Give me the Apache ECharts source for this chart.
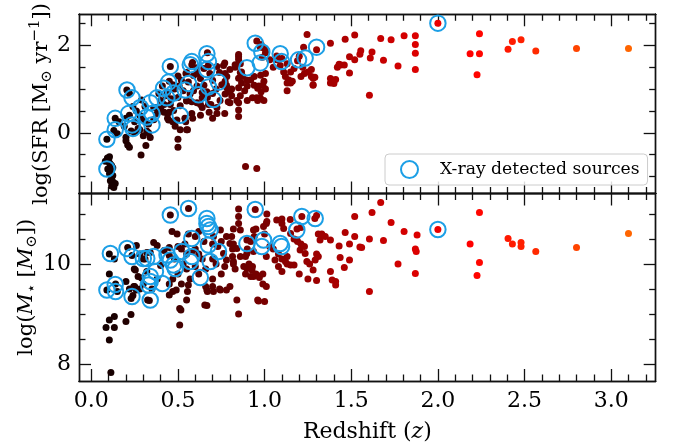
<!DOCTYPE html>
<html><head><meta charset="utf-8">
<script src="https://cdn.jsdelivr.net/npm/echarts@6/dist/echarts.min.js"></script>
<style>html,body{margin:0;padding:0;background:#fff;}#c{width:673px;height:445px;}</style>
</head><body><div id="c"></div>
<script>
// ---- data (redshift z, value) ----
const sfrDots = [
[0.081,-0.65],[0.093,-0.58],[0.105,-0.55],[0.10,-0.62],[0.11,-0.72],[0.105,-0.69],[0.117,-0.75],[0.124,-0.8],[0.095,-0.83],[0.11,-0.9],[0.105,-0.94],[0.117,-1.05],[0.124,-0.98],[0.11,-1.1],[0.138,-1.16],[0.124,-1.12],[0.117,-1.22],[0.13,-1.25],[0.09,-0.15],[0.13,0.05],[0.138,0.33],[0.15,-0.02],[0.16,0.25],
[0.2,-0.1],[0.21,-0.28],[0.22,-0.33],[0.2,-0.18],[0.287,-0.51],[0.315,-0.29],[0.2,0.33],[0.22,0.4],[0.23,0.04],[0.25,0.0],[0.28,0.07],[0.30,-0.07],[0.32,0.04],[0.34,-0.11],[0.33,0.0],[0.19,0.15],[0.25,0.25],[0.26,0.5],[0.28,0.4],[0.3,0.3],[0.27,0.1],[0.31,0.6],[0.29,0.75],[0.24,0.6],[0.205,0.98],[0.22,0.9],[0.33,0.2],[0.36,0.3],
[0.40,0.54],[0.38,0.44],[0.36,0.58],[0.42,0.65],[0.44,0.44],[0.456,0.65],[0.446,0.29],[0.484,0.15],[0.513,0.07],[0.55,0.07],[0.5,-0.15],[0.5,-0.33],[0.494,0.29],[0.54,0.33],[0.475,0.51],[0.513,0.62],[0.55,0.73],[0.44,0.33],[0.47,0.25],[0.45,0.47],[0.42,0.47],[0.40,0.56],[0.37,0.58],[0.41,1.07],[0.44,0.92],[0.40,0.74],[0.46,0.78],[0.5,0.81],[0.45,1.18],[0.456,1.52],[0.52,1.2],[0.507,1.07],[0.53,0.96],[0.546,1.36],[0.555,0.07],[0.545,0.25],[0.39,0.9],[0.43,0.85],[0.48,1.0],[0.5,1.3],[0.47,1.1],
[0.58,0.44],[0.61,0.69],[0.64,0.80],[0.667,0.94],[0.65,1.09],[0.63,1.24],[0.59,1.31],[0.61,1.49],[0.58,1.56],[0.55,1.38],[0.56,1.16],[0.63,0.65],[0.676,0.65],[0.725,0.58],[0.725,0.44],[0.61,1.36],[0.65,1.47],[0.675,1.54],[0.684,1.36],[0.57,0.89],[0.59,0.96],[0.61,1.07],[0.64,0.92],[0.67,0.81],[0.55,0.74],[0.58,0.71],[0.63,0.40],[0.585,0.33],[0.64,0.58],[0.69,0.65],[0.68,0.47],[0.70,0.33],[0.584,1.61],[0.67,1.83],[0.7,1.2],[0.72,1.0],[0.74,1.38],[0.725,1.52],[0.7,0.9],
[0.77,0.44],[0.8,0.94],[0.78,1.09],[0.77,1.6],[0.8,1.45],[0.83,1.56],[0.85,1.74],[0.86,1.38],[0.763,1.54],[0.772,1.36],[0.782,1.29],[0.772,1.18],[0.753,1.1],[0.782,1.03],[0.81,1.0],[0.772,0.89],[0.81,0.85],[0.743,0.74],[0.79,0.71],[0.84,0.74],[0.8,0.69],[0.85,0.69],[0.85,0.52],[0.85,0.37],[0.83,1.5],[0.85,1.79],[0.85,1.68],[0.86,1.58],[0.867,1.39],[0.875,1.29],[0.85,1.25],[0.867,1.14],[0.85,1.03],[0.885,0.96],[0.86,0.85],[0.9,1.07],[0.92,1.21],[0.94,1.29],[0.977,1.32],[1.005,1.36],[0.996,1.18],[0.967,1.07],[1.005,1.0],[0.96,0.74],[0.996,0.74],[0.9,0.74],[0.93,0.8],[0.955,0.8],[0.975,0.8],[0.99,1.09],[0.98,0.94],[0.96,1.02],[0.94,1.09],[0.9,1.2],[0.89,-0.77],[0.955,-0.82],[0.996,1.94],[1.005,1.83],[0.987,1.73],[0.975,1.96],[0.955,2.1],[0.98,2.02],
[1.03,1.67],[1.01,1.89],[1.07,1.76],[1.09,1.54],[1.13,1.58],[1.15,1.39],[1.17,1.47],[1.12,1.29],[1.14,1.21],[1.16,1.18],[1.15,1.14],[1.13,1.14],[1.22,1.5],[1.23,1.36],[1.25,1.39],[1.27,1.29],[1.28,1.25],[1.28,1.1],[1.07,1.67],[1.11,1.39],[1.13,0.96],[1.21,1.29],[1.225,1.96],[1.245,2.25],[1.27,1.45],[1.29,1.27],[1.28,1.09],[1.38,2.05],[1.38,1.24],[1.39,1.21],[1.40,1.13],[1.38,1.14],[1.41,1.22],[1.42,1.5],[1.3,1.9],[1.2,1.75],[1.1,1.7],[1.05,1.5],[1.19,1.65],
[1.465,2.14],[1.52,2.24],[1.49,1.74],[1.52,1.67],[1.55,1.8],[1.555,1.88],[1.44,1.55],[1.46,1.55],[1.43,1.57],[1.49,1.37],[1.61,1.71],[1.62,1.85],[1.605,0.86],[1.67,2.16],[1.686,1.66],[1.73,2.13],[1.77,1.53],[1.805,2.22],[1.87,2.22],[1.87,2.02],[1.87,1.82],[1.87,1.45],
[2.0,2.51],[2.186,1.81],[2.24,2.27],[2.24,1.81],[2.226,1.33],[2.405,1.91],[2.43,2.09],[2.48,2.13],[2.565,1.87],[2.80,1.93],[3.10,1.93]
];
const sfrXray = [
[0.09,-0.15],[0.138,0.07],[0.09,-0.83],[0.138,0.33],[0.206,0.98],[0.235,0.80],[0.215,0.44],[0.235,0.18],[0.24,0.10],[0.283,0.58],[0.34,0.69],[0.35,0.44],[0.35,0.18],[0.32,0.36],[0.379,0.80],[0.417,1.02],[0.446,1.16],[0.456,1.52],[0.436,0.80],[0.475,0.91],[0.513,0.40],[0.542,0.98],[0.561,1.13],[0.58,1.63],[0.571,1.56],[0.619,0.87],[0.667,1.81],[0.676,1.63],[0.667,1.45],[0.676,1.05],[0.705,0.76],[0.734,1.16],[0.898,1.49],[0.946,2.05],[0.984,1.85],[0.975,1.6],[1.09,1.81],[1.098,1.63],[1.196,1.67],[1.234,1.71],[1.30,1.96],[2.0,2.51]
];
const massDots = [
[0.113,7.83],[0.104,8.48],[0.085,8.73],[0.133,8.73],[0.104,8.88],[0.133,8.95],[0.2,8.85],[0.229,8.99],[0.23,9.31],[0.325,9.28],[0.335,9.27],[0.09,9.48],[0.14,9.6],[0.15,9.45],[0.24,9.37],[0.104,10.2],[0.133,10.1],[0.104,9.8],[0.248,9.9],[0.21,10.33],[0.235,10.17],[0.28,10.2],[0.31,10.1],[0.36,10.43],[0.38,10.37],[0.26,10.37],[0.32,10.23],[0.34,10.23],[0.3,10.1],[0.4,9.97],[0.42,10.27],[0.45,10.17],[0.45,10.33],[0.3,9.6],[0.28,9.5],[0.35,9.5],[0.38,9.7],[0.32,9.85],[0.27,9.75],[0.25,9.55],[0.2,9.65],[0.22,9.5],[0.254,9.88],[0.29,9.72],[0.245,9.55],[0.26,9.48],
[0.51,9.11],[0.51,8.78],[0.655,9.18],[0.667,9.48],[0.705,9.45],[0.745,9.48],[0.466,10.65],[0.495,10.6],[0.5,10.35],[0.52,10.3],[0.54,10.4],[0.55,10.2],[0.6,10.3],[0.62,10.2],[0.64,10.1],[0.6,9.95],[0.55,9.9],[0.5,9.8],[0.47,9.7],[0.45,9.6],[0.52,9.6],[0.57,9.7],[0.62,9.8],[0.66,9.9],[0.7,10.1],[0.72,10.0],[0.7,9.7],[0.75,9.8],[0.77,9.95],[0.73,10.35],[0.75,10.45],[0.7,10.4],[0.65,10.45],[0.6,10.55],[0.62,10.65],[0.56,10.6],[0.45,9.38],[0.47,9.45],[0.49,9.48],[0.517,9.08],[0.55,9.28],[0.555,9.45],[0.56,9.58],[0.67,9.45],[0.66,9.55],[0.7,9.55],[0.74,9.5],[0.78,9.48],[0.667,9.17],[0.456,10.98],[0.561,11.11],[0.53,10.0],[0.48,10.1],[0.58,10.25],
[0.8,9.55],[0.84,9.28],[0.85,9.0],[0.96,9.28],[1.0,9.25],[1.01,9.55],[0.936,9.75],[0.955,9.78],[0.898,9.91],[0.927,9.88],[0.85,11.1],[0.85,10.95],[0.85,10.81],[0.86,10.68],[0.898,10.48],[0.936,10.68],[0.994,10.75],[1.01,10.81],[0.84,10.31],[0.8,10.41],[0.78,10.55],[0.745,10.68],[0.705,10.55],[0.763,10.21],[0.78,10.08],[0.82,10.05],[0.86,10.15],[0.898,10.21],[0.936,10.25],[0.82,10.7],[0.81,10.55],[0.82,10.4],[0.815,10.3],[0.815,10.15],[0.82,10.0],[0.83,9.9],[0.95,10.7],[0.94,10.55],[0.92,10.45],[0.9,10.3],[0.89,10.15],[0.91,10.0],[0.93,9.95],[0.88,9.95],[0.89,9.8],[0.92,9.75],[0.95,9.8],[0.97,9.73],[0.99,9.8],[0.99,9.6],[0.946,11.09],
[1.07,10.88],[1.1,10.81],[1.11,10.71],[1.15,10.61],[1.186,10.48],[1.205,10.28],[1.234,10.21],[1.244,10.05],[1.292,10.08],[1.28,9.88],[1.32,10.48],[1.38,10.48],[1.38,9.85],[1.39,9.68],[1.41,9.65],[1.13,10.15],[1.15,9.98],[1.17,9.98],[1.06,10.08],[1.01,10.15],[1.013,11.0],[1.013,10.85],[1.1,10.9],[1.148,10.89],[1.215,10.95],[1.30,10.97],[1.187,10.7],[1.21,10.73],[1.0,10.6],[1.03,10.35],[1.05,10.3],[1.08,10.2],[1.1,10.1],[1.12,10.05],[1.13,10.0],[1.1,9.85],[1.17,10.5],[1.19,10.45],[1.21,10.4],[1.23,10.35],[1.31,10.6],[1.33,10.6],[1.35,10.55],[1.3,10.2],[1.31,10.15],[1.3,9.67],[1.25,9.7],[1.26,10.0],[1.2,9.8],[1.08,9.95],[1.29,10.91],[0.965,9.26],[1.41,9.58],
[1.67,11.23],[1.62,11.03],[1.52,10.95],[1.73,10.83],[1.805,10.65],[1.88,10.58],[1.465,10.63],[1.52,10.55],[1.43,10.36],[1.49,10.4],[1.55,10.34],[1.56,10.33],[1.605,10.5],[1.686,10.47],[1.87,10.3],[1.875,10.25],[1.436,10.13],[1.49,10.08],[1.46,9.93],[1.77,10.0],[1.87,9.81],[1.605,9.45],
[2.0,10.69],[2.24,11.03],[2.186,10.4],[2.24,10.03],[2.226,9.77],[2.405,10.51],[2.43,10.4],[2.48,10.43],[2.48,10.35],[2.565,10.25],[2.8,10.33],[3.1,10.61]
];
const massXray = [
[0.09,9.48],[0.138,9.59],[0.14,9.45],[0.235,9.35],[0.11,10.21],[0.206,10.31],[0.235,10.15],[0.30,10.11],[0.32,10.11],[0.36,10.15],[0.34,9.75],[0.34,9.65],[0.33,9.58],[0.34,9.28],[0.41,9.61],[0.37,9.85],[0.437,10.18],[0.456,10.08],[0.475,9.98],[0.484,9.91],[0.456,10.98],[0.561,11.11],[0.523,10.25],[0.58,10.15],[0.571,10.05],[0.58,10.51],[0.629,9.73],[0.667,10.91],[0.667,10.81],[0.676,10.75],[0.686,10.68],[0.676,10.38],[0.686,10.05],[0.734,10.25],[0.898,10.41],[0.946,11.09],[0.994,10.48],[0.984,10.35],[1.09,10.41],[1.098,10.35],[1.186,10.68],[1.215,10.95],[1.292,10.91],[2.0,10.69]
];
// ---- tick values ----
const xMajorTicks = [0, 0.5, 1, 1.5, 2, 2.5, 3];
const xMinorTicks = [0.1,0.2,0.3,0.4,0.6,0.7,0.8,0.9,1.1,1.2,1.3,1.4,1.6,1.7,1.8,1.9,2.1,2.2,2.3,2.4,2.6,2.7,2.8,2.9,3.1,3.2];
const sfrMajorTicks = [0, 2];
const sfrMinorTicks = [-1, -0.5, 0.5, 1, 1.5, 2.5];
const massMajorTicks = [8, 10];
const massMinorTicks = [8.5, 9, 9.5, 10.5, 11];
const legendLabel = 'X-ray detected sources';

const X_MIN=-0.071, X_MAX=3.257, SFR_MIN=-1.39, SFR_MAX=2.713, M_MIN=7.66, M_MAX=11.41;
const FONT='DejaVu Serif', BLUE='#1c9fe6', COLOR_MAX=6.0;
const MAJ=12, MIN=6.5, TICKFS=22, NAMEFS=21;

function hot(t){
  t=Math.max(0,Math.min(1,t));
  const a=0.365079,b=0.746032;
  const r=t<a?0.0416+(1-0.0416)*t/a:1;
  const g=t<a?0:(t<b?(t-a)/(b-a):1);
  const bl=t<b?0:(t-b)/(1-b);
  return 'rgb('+Math.round(r*255)+','+Math.round(g*255)+','+Math.round(bl*255)+')';
}
const lineStyle={color:'#111',width:1.4};
const nameRich={
  sub:{fontFamily:FONT,fontSize:15,lineHeight:12,verticalAlign:'bottom',color:'#000'},
  sup:{fontFamily:FONT,fontSize:15,lineHeight:12,verticalAlign:'top',color:'#000'},
  i:{fontFamily:FONT,fontSize:NAMEFS,fontStyle:'italic',lineHeight:27,color:'#000'},
  n:{fontFamily:FONT,fontSize:NAMEFS,lineHeight:27,color:'#000'},
  xi:{fontFamily:FONT,fontSize:22,fontStyle:'italic',lineHeight:27,color:'#000'},
  xn:{fontFamily:FONT,fontSize:22,lineHeight:27,color:'#000'}
};
function ax(kind,grid,pos,min,max,ticks,len,labels,extra){
  const o={type:'value',gridIndex:grid,position:pos,min:min,max:max,
    axisLine:{show:true,onZero:false,lineStyle:lineStyle},
    axisTick:{show:true,inside:true,length:len,customValues:ticks,lineStyle:{color:'#111',width:1.3}},
    axisLabel:{show:!!labels,customValues:ticks,fontFamily:FONT,fontSize:TICKFS,color:'#000',
      margin:kind==='x'?9:8,formatter:kind==='x'?(v=>Number(v).toFixed(1)):(v=>String(v))},
    splitLine:{show:false},minorTick:{show:false},splitArea:{show:false},silent:true};
  return Object.assign(o,extra||{});
}
const xAxes=[], yAxes=[];
[0,1].forEach(g=>{
  const xLab = g===1;
  xAxes.push(ax('x',g,'bottom',X_MIN,X_MAX,xMajorTicks,MAJ,xLab, xLab?{name:'{xn|Redshift (}{xi|z}{xn|)}',nameLocation:'middle',nameGap:38,nameTextStyle:{rich:nameRich,fontFamily:FONT,fontSize:22,color:'#000'}}:{}));
  xAxes.push(ax('x',g,'bottom',X_MIN,X_MAX,xMinorTicks,MIN,false));
  xAxes.push(ax('x',g,'top',X_MIN,X_MAX,xMajorTicks,MAJ,false));
  xAxes.push(ax('x',g,'top',X_MIN,X_MAX,xMinorTicks,MIN,false));
});
yAxes.push(ax('y',0,'left',SFR_MIN,SFR_MAX,sfrMajorTicks,MAJ,true,{name:'{n|log(SFR [M}{sub|⊙}{n| yr}{sup|−1}{n|])}',nameLocation:'middle',nameRotate:90,nameGap:24,nameMoveOverlap:false,nameTextStyle:{rich:nameRich,fontFamily:FONT,fontSize:NAMEFS,color:'#000'}}));
yAxes.push(ax('y',0,'left',SFR_MIN,SFR_MAX,sfrMinorTicks,MIN,false));
yAxes.push(ax('y',0,'right',SFR_MIN,SFR_MAX,sfrMajorTicks,MAJ,false));
yAxes.push(ax('y',0,'right',SFR_MIN,SFR_MAX,sfrMinorTicks,MIN,false));
yAxes.push(ax('y',1,'left',M_MIN,M_MAX,massMajorTicks,MAJ,true,{name:'{n|log(}{i|M}{sub|⋆}{n| [}{i|M}{sub|⊙}{n|])}',nameLocation:'middle',nameRotate:90,nameGap:39,nameMoveOverlap:false,nameTextStyle:{rich:nameRich,fontFamily:FONT,fontSize:NAMEFS,color:'#000'}}));
yAxes.push(ax('y',1,'left',M_MIN,M_MAX,massMinorTicks,MIN,false));
yAxes.push(ax('y',1,'right',M_MIN,M_MAX,massMajorTicks,MAJ,false));
yAxes.push(ax('y',1,'right',M_MIN,M_MAX,massMinorTicks,MIN,false));

const dotStyle={color:p=>hot(p.value[0]/COLOR_MAX),opacity:1};
const ringStyle={color:'rgba(0,0,0,0)',borderColor:BLUE,borderWidth:2,opacity:1};
const option={
  animation:false,
  backgroundColor:'#fff',
  grid:[{left:79,right:17.3,top:6,height:187.5},{left:79,right:17.3,top:193.5,height:187.5}],
  xAxis:xAxes, yAxis:yAxes,
  legend:{left:385,top:154,selectedMode:false,padding:[6,8,6,15],itemWidth:17,itemHeight:17,
    backgroundColor:'rgba(255,255,255,0.85)',borderColor:'#cccccc',borderWidth:1,borderRadius:4,
    textStyle:{fontFamily:FONT,fontSize:17.2,color:'#000',padding:[0,0,0,17]},
    data:[{name:legendLabel,icon:'circle',itemStyle:{color:'rgba(0,0,0,0)',borderColor:BLUE,borderWidth:2}}]},
  series:[
    {type:'scatter',name:'sfr',xAxisIndex:0,yAxisIndex:0,data:sfrDots,symbol:'circle',symbolSize:7,itemStyle:dotStyle,z:2,silent:true},
    {type:'scatter',name:legendLabel,xAxisIndex:0,yAxisIndex:0,data:sfrXray,symbol:'circle',symbolSize:15.5,itemStyle:ringStyle,z:3,silent:true},
    {type:'scatter',name:'mass',xAxisIndex:4,yAxisIndex:4,data:massDots,symbol:'circle',symbolSize:7,itemStyle:dotStyle,z:2,silent:true},
    {type:'scatter',name:legendLabel,xAxisIndex:4,yAxisIndex:4,data:massXray,symbol:'circle',symbolSize:15.5,itemStyle:ringStyle,z:3,silent:true}
  ]
};
const chart=echarts.init(document.getElementById('c'),null,{renderer:'canvas'});
chart.setOption(option);
</script></body></html>
